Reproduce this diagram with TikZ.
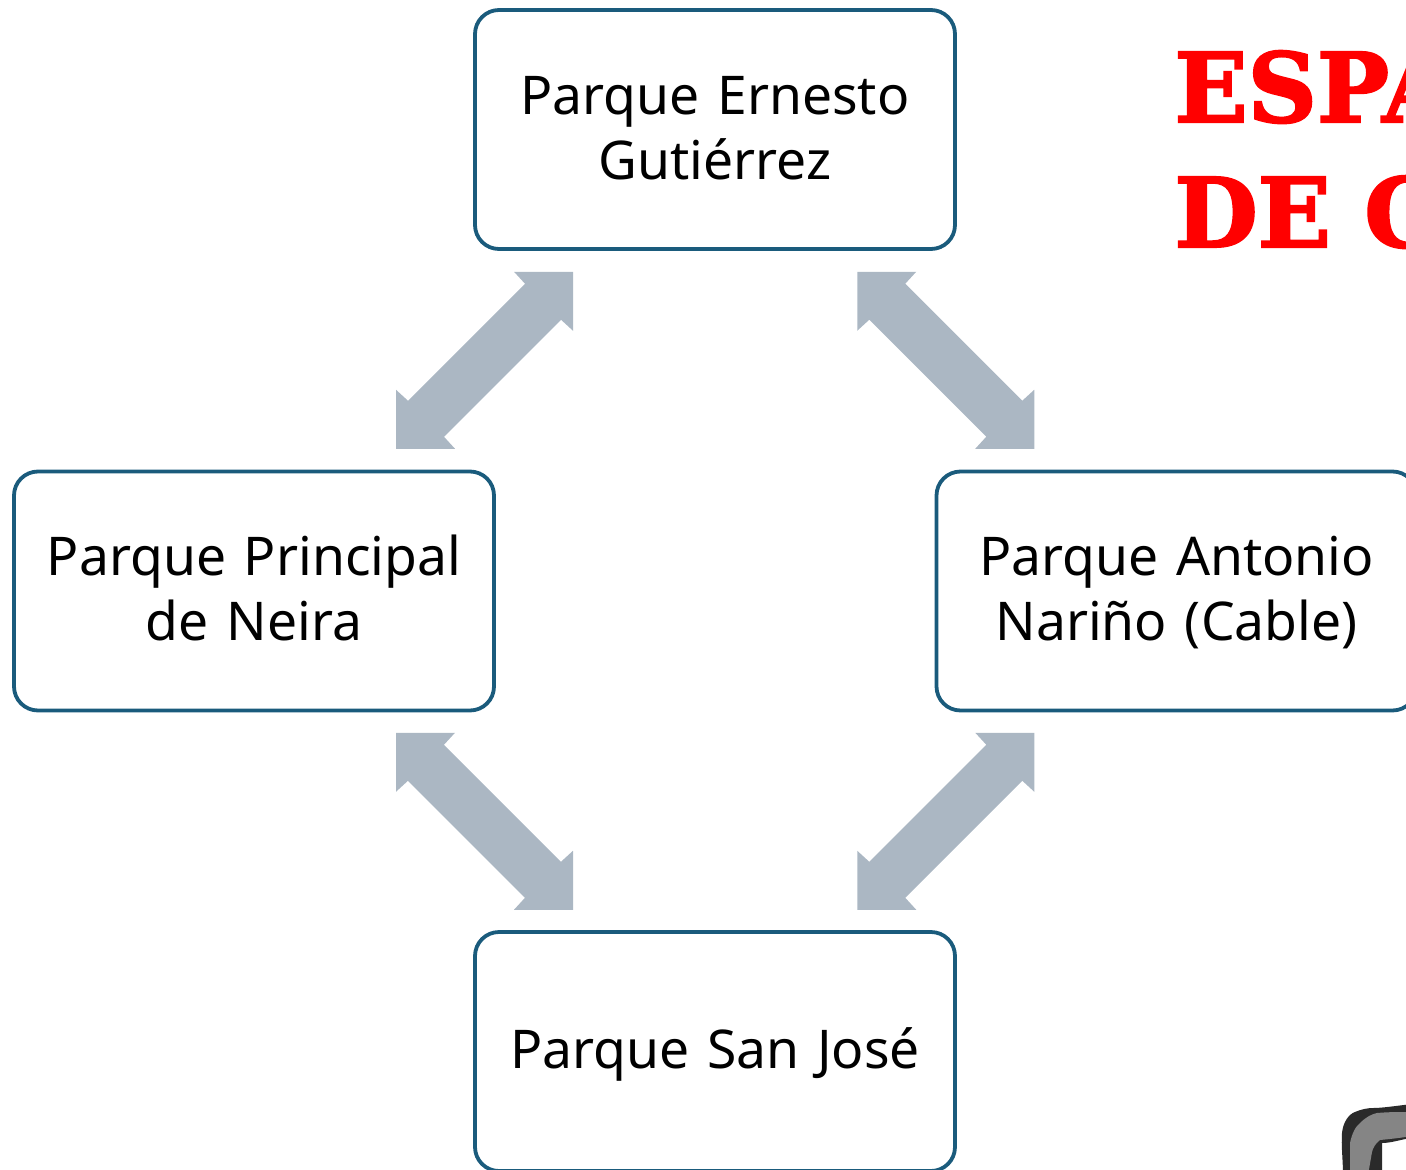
\documentclass[tikz,border=0pt]{standalone}
\usepackage{fontspec}
\setmainfont{Noto Sans}
\newfontfamily\titlefont{DejaVu Serif Bold}[FakeBold=2.2]
\usetikzlibrary{calc}
\definecolor{boxedge}{HTML}{1A5B7C}
\definecolor{arrowfill}{HTML}{ABB7C3}
\definecolor{inkdark}{HTML}{2A2A2A}
\definecolor{inkmid}{HTML}{858585}
\newcommand{\parkstrut}{\rule[-15.5pt]{0pt}{65pt}}
\tikzset{
  parkbox/.style={draw=boxedge,line width=3.8pt,rounded corners=24pt,fill=white,
    minimum width=480pt,minimum height=239pt,outer sep=0pt,inner sep=0pt,
    text width=470pt,align=center,font=\fontsize{53.4}{65}\selectfont},
  blockarrow/.style={fill=arrowfill,draw=none},
  titletext/.style={text=red,anchor=base west,inner sep=0pt,outer sep=0pt,
    font=\titlefont\fontsize{96}{96}\selectfont}
}
\newcommand{\dblarrow}[3]{%
  \fill[blockarrow,shift={($(#1)!.5!(#2)$)},xscale=#3]
    (88.5,-88.5) -- (29.5,-88.5) -- (40.5,-76.5) -- (-76.5,40.5) -- (-88.5,29.5)
    -- (-88.5,88.5) -- (-29.5,88.5) -- (-40.5,76.5) -- (76.5,-40.5) -- (88.5,-29.5) -- cycle;}
\begin{document}
\begin{tikzpicture}[x=1pt,y=-1pt]
\useasboundingbox (0,0) rectangle (1406,1170);
\clip (0,0) rectangle (1406,1170);
\node[parkbox] (top) at (715,129.5) {\parkstrut Parque Ernesto\\\parkstrut Gutiérrez};
\node[parkbox] (left) at (254,591) {\parkstrut Parque Principal\\\parkstrut de Neira};
\node[parkbox] (right) at (1176.5,591) {\parkstrut Parque Antonio\\\parkstrut Nariño (Cable)};
\node[parkbox] (bottom) at (715,1051.5) {\parkstrut Parque San José};
\dblarrow{top}{left}{1}
\dblarrow{top}{right}{-1}
\dblarrow{bottom}{left}{-1}
\dblarrow{bottom}{right}{1}
\node[titletext] (title1) at (1174.5,122) {ESPA};
\node[titletext] (title2) at (1174.5,247) {DE C};
\fill[inkdark]
  (1343,1175) .. controls (1343,1160) and (1341,1145) .. (1342,1133)
  .. controls (1343,1122) and (1349,1114) .. (1355,1112)
  .. controls (1362,1109) and (1368,1108) .. (1373,1108)
  .. controls (1382,1108) and (1395,1106) .. (1412,1104)
  -- (1412,1138) .. controls (1402,1139) and (1392,1143) .. (1382,1143)
  -- (1382,1175) -- cycle;
\fill[inkmid]
  (1350,1175) -- (1350,1143) .. controls (1352,1133) and (1356,1126) .. (1360,1123)
  .. controls (1366,1117) and (1372,1114) .. (1377,1113)
  .. controls (1388,1112) and (1398,1112) .. (1412,1112)
  -- (1412,1136) .. controls (1400,1138) and (1390,1139) .. (1380,1140)
  .. controls (1375,1144) and (1373,1148) .. (1372,1152)
  -- (1368,1175) -- cycle;
\end{tikzpicture}
\end{document}
